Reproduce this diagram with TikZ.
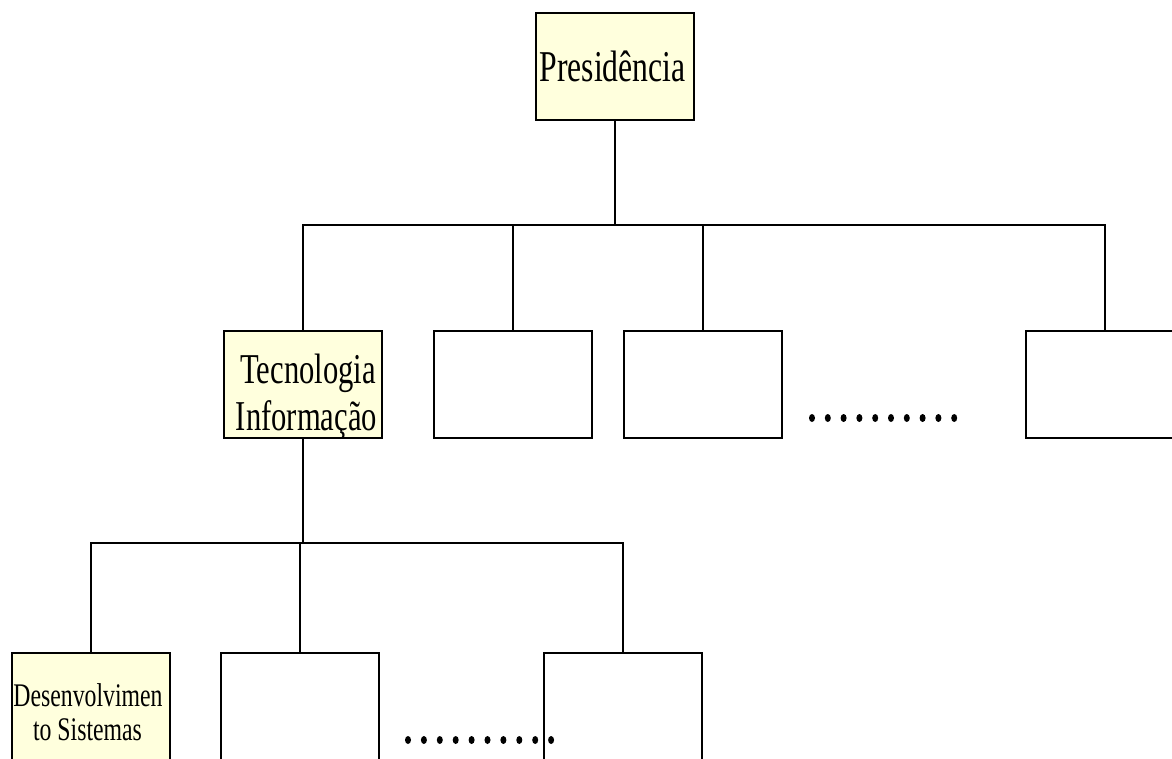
\documentclass[tikz,border=0pt]{standalone}
\usepackage{fontspec}
\newfontfamily\boxfont[FakeStretch=0.72]{Liberation Serif}
\definecolor{boxfill}{HTML}{FFFFDD}
\begin{document}
\begin{tikzpicture}[x=1pt,y=-1pt,
  unit/.style={draw=black, line width=1.8pt, minimum width=158pt, minimum height=107pt,
               inner sep=0pt, anchor=north west},
  tallunit/.style={unit, minimum height=130pt},
  hl/.style={fill=boxfill},
  link/.style={draw=black, line width=1.6pt},
  caption/.style={inner sep=0pt, anchor=base, font=\boxfont}]

\useasboundingbox (0,0) rectangle (1172,758);
\clip (0,0) rectangle (1172,758);

% top level
\node[unit, hl] (pres) at (535,12) {};
\node[caption, font=\boxfont\fontsize{44}{48}\selectfont] (presT) at (612.5,81) {Presidência};

% second level
\node[unit, hl] (ti) at (223,330) {};
\node[unit] (u2) at (433,330) {};
\node[unit] (u3) at (623,330) {};
\node[unit] (u4) at (1025,330) {};
\node[caption, font=\boxfont\fontsize{42.5}{46}\selectfont] (tiA) at (308,383) {Tecnologia};
\node[caption, font=\boxfont\fontsize{42.5}{46}\selectfont] (tiB) at (306.5,430) {Informação};

% third level
\node[tallunit, hl] (d1) at (11,652) {};
\node[tallunit] (d2) at (220,652) {};
\node[tallunit] (d3) at (543,652) {};
\node[caption, font=\boxfont\fontsize{33}{36}\selectfont] (d1A) at (88,706) {Desenvolvimen};
\node[caption, font=\boxfont\fontsize{33}{36}\selectfont] (d1B) at (87.5,740) {to Sistemas};

% buses
\coordinate (busA) at (613,225);
\coordinate (busB) at (300,543);

\draw[link] (pres.south) -- (pres.south |- busA);
\draw[link] (ti.north) -- (ti.north |- busA) -- (u4.north |- busA) -- (u4.north);
\draw[link] (u2.north) -- (u2.north |- busA);
\draw[link] (u3.north) -- (u3.north |- busA);

\draw[link] (ti.south) -- (ti.south |- busB);
\draw[link] (d1.north) -- (d1.north |- busB) -- (d3.north |- busB) -- (d3.north);
\draw[link] (d2.north) -- (d2.north |- busB);

% ellipsis dots
\foreach \i in {0,...,9} {
  \fill (812+15.8*\i, 418) ellipse (3pt and 4pt);
  \fill (408+15.9*\i, 740) ellipse (3pt and 4pt);
}
\end{tikzpicture}
\end{document}
